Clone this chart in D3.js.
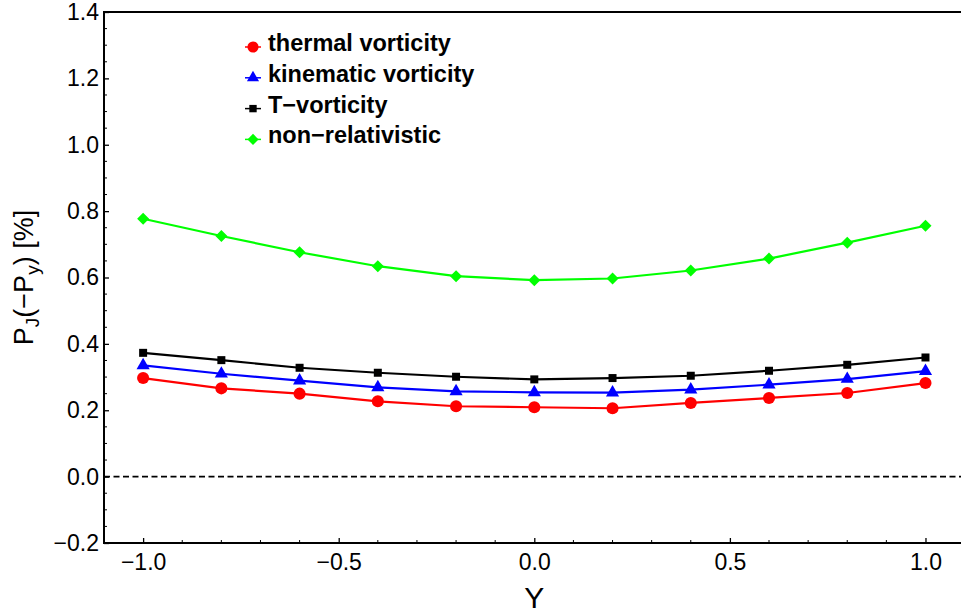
<!DOCTYPE html>
<html>
<head>
<meta charset="utf-8">
<script src="https://cdn.jsdelivr.net/npm/d3@7"></script>
<style>
  html, body { margin: 0; padding: 0; background: #fff; }
  svg { display: block; font-family: "Liberation Sans", Arial, sans-serif; }
</style>
</head>
<body>
<svg id="chart" width="961" height="614"></svg>
<script>
// Rapidity values (x axis)
const rapidity = [-1.0, -0.8, -0.6, -0.4, -0.2, 0.0, 0.2, 0.4, 0.6, 0.8, 1.0];

// Polarization P_J(-P_y) in percent for each vorticity scheme
const thermal   = [0.297, 0.266, 0.250, 0.227, 0.212, 0.209, 0.206, 0.222, 0.237, 0.252, 0.282];
const kinematic = [0.335, 0.310, 0.289, 0.269, 0.257, 0.254, 0.253, 0.262, 0.277, 0.294, 0.318];
const tVort     = [0.373, 0.351, 0.328, 0.313, 0.301, 0.293, 0.297, 0.304, 0.319, 0.337, 0.359];
const nonRel    = [0.777, 0.725, 0.676, 0.634, 0.604, 0.592, 0.597, 0.621, 0.657, 0.705, 0.756];

const seriesNames = ["thermal vorticity", "kinematic vorticity", "T\u2212vorticity", "non\u2212relativistic"];

// Tick labels
const xTicks = [-1.0, -0.5, 0.0, 0.5, 1.0];
const yTicks = [-0.2, 0.0, 0.2, 0.4, 0.6, 0.8, 1.0, 1.2, 1.4];

// square diamond (rotated square), unlike d3's taller symbolDiamond
const squareDiamond = {
  draw(context, size) {
    const r = Math.sqrt(size / 2);
    context.moveTo(0, -r);
    context.lineTo(r, 0);
    context.lineTo(0, r);
    context.lineTo(-r, 0);
    context.closePath();
  }
};

const series = [
  { name: seriesNames[0], values: thermal,   color: "#ff0000", symbol: d3.symbolCircle,   size: 115 },
  { name: seriesNames[1], values: kinematic, color: "#0000ff", symbol: d3.symbolTriangle, size: 75 },
  { name: seriesNames[2], values: tVort,     color: "#000000", symbol: d3.symbolSquare,   size: 64 },
  { name: seriesNames[3], values: nonRel,    color: "#00ff00", symbol: squareDiamond,     size: 72 }
];

const svg = d3.select("#chart");
const plot = { left: 104, right: 964.6, top: 12, bottom: 543 };

const x = d3.scaleLinear().domain([-1.1, 1.1]).range([plot.left, plot.right]);
const y = d3.scaleLinear().domain([-0.2, 1.4]).range([plot.bottom, plot.top]);

const fmt = d => d3.format(".1f")(d).replace("-", "\u2212");

// zero reference line
svg.append("line")
  .attr("x1", plot.left).attr("x2", plot.right)
  .attr("y1", y(0)).attr("y2", y(0))
  .attr("stroke", "#000").attr("stroke-width", 1.6)
  .attr("stroke-dasharray", "6,3.5");

// frame
svg.append("rect")
  .attr("x", plot.left).attr("y", plot.top)
  .attr("width", plot.right - plot.left).attr("height", plot.bottom - plot.top)
  .attr("fill", "none").attr("stroke", "#000").attr("stroke-width", 2);

// bottom axis: inward ticks
const xMinor = d3.range(-11, 12).map(i => i / 10);
const xAxis = d3.axisBottom(x).tickValues(xTicks).tickSize(-5).tickPadding(10.5).tickFormat(fmt);
const gx = svg.append("g").attr("transform", `translate(0,${plot.bottom})`).call(xAxis);
gx.select(".domain").remove();
gx.selectAll(".tick line").attr("stroke-width", 1.3);
gx.selectAll(".tick text").attr("font-size", 23).attr("fill", "#000");
svg.append("g").selectAll("line").data(xMinor.filter(v => !xTicks.some(t => Math.abs(t - v) < 1e-9)))
  .join("line")
  .attr("x1", d => x(d)).attr("x2", d => x(d))
  .attr("y1", plot.bottom).attr("y2", plot.bottom - 3)
  .attr("stroke", "#000").attr("stroke-width", 1);

// left axis: inward ticks
const yMinor = d3.range(-4, 29).map(i => i * 0.05);
const yAxis = d3.axisLeft(y).tickValues(yTicks).tickSize(-5).tickPadding(5).tickFormat(fmt);
const gy = svg.append("g").attr("transform", `translate(${plot.left},0)`).call(yAxis);
gy.select(".domain").remove();
gy.selectAll(".tick line").attr("stroke-width", 1.3);
gy.selectAll(".tick text").attr("font-size", 23).attr("fill", "#000");
svg.append("g").selectAll("line").data(yMinor.filter(v => !yTicks.some(t => Math.abs(t - v) < 1e-9)))
  .join("line")
  .attr("x1", plot.left).attr("x2", plot.left + 3)
  .attr("y1", d => y(d)).attr("y2", d => y(d))
  .attr("stroke", "#000").attr("stroke-width", 1);

// axis titles
svg.append("text")
  .attr("x", x(0)).attr("y", 608)
  .attr("text-anchor", "middle").attr("font-size", 30).attr("fill", "#000")
  .text("Y");

const yTitle = svg.append("text")
  .attr("transform", `translate(33,${y(0.6)}) rotate(-90)`)
  .attr("text-anchor", "middle").attr("font-size", 27).attr("fill", "#000");
yTitle.append("tspan").text("P");
yTitle.append("tspan").attr("font-size", 19).attr("dy", 6).text("J");
yTitle.append("tspan").attr("dy", -6).text("(\u2212P");
yTitle.append("tspan").attr("font-size", 19).attr("dy", 6).text("y");
yTitle.append("tspan").attr("dy", -6).text(") [%]");

// data lines and markers
const line = d3.line().x((d, i) => x(rapidity[i])).y(d => y(d));
series.forEach(s => {
  svg.append("path").datum(s.values)
    .attr("d", line).attr("fill", "none")
    .attr("stroke", s.color).attr("stroke-width", 2.2);
  svg.append("g").selectAll("path").data(s.values).join("path")
    .attr("transform", (d, i) => `translate(${x(rapidity[i])},${y(d)})`)
    .attr("d", d3.symbol().type(s.symbol).size(s.size))
    .attr("fill", s.color);
});

// legend
const legend = svg.append("g").attr("transform", "translate(253,47)");
series.forEach((s, i) => {
  const g = legend.append("g").attr("transform", `translate(0,${i * 30.8})`);
  g.append("line").attr("x1", -8).attr("x2", 8).attr("y1", 0).attr("y2", 0)
    .attr("stroke", s.color).attr("stroke-width", 1.5);
  g.append("path").attr("d", d3.symbol().type(s.symbol).size(s.size * 0.85)).attr("fill", s.color);
  g.append("text").attr("x", 15).attr("y", 4).attr("font-size", 23.5)
    .attr("font-weight", "bold").attr("fill", "#000").text(s.name);
});
</script>
</body>
</html>
